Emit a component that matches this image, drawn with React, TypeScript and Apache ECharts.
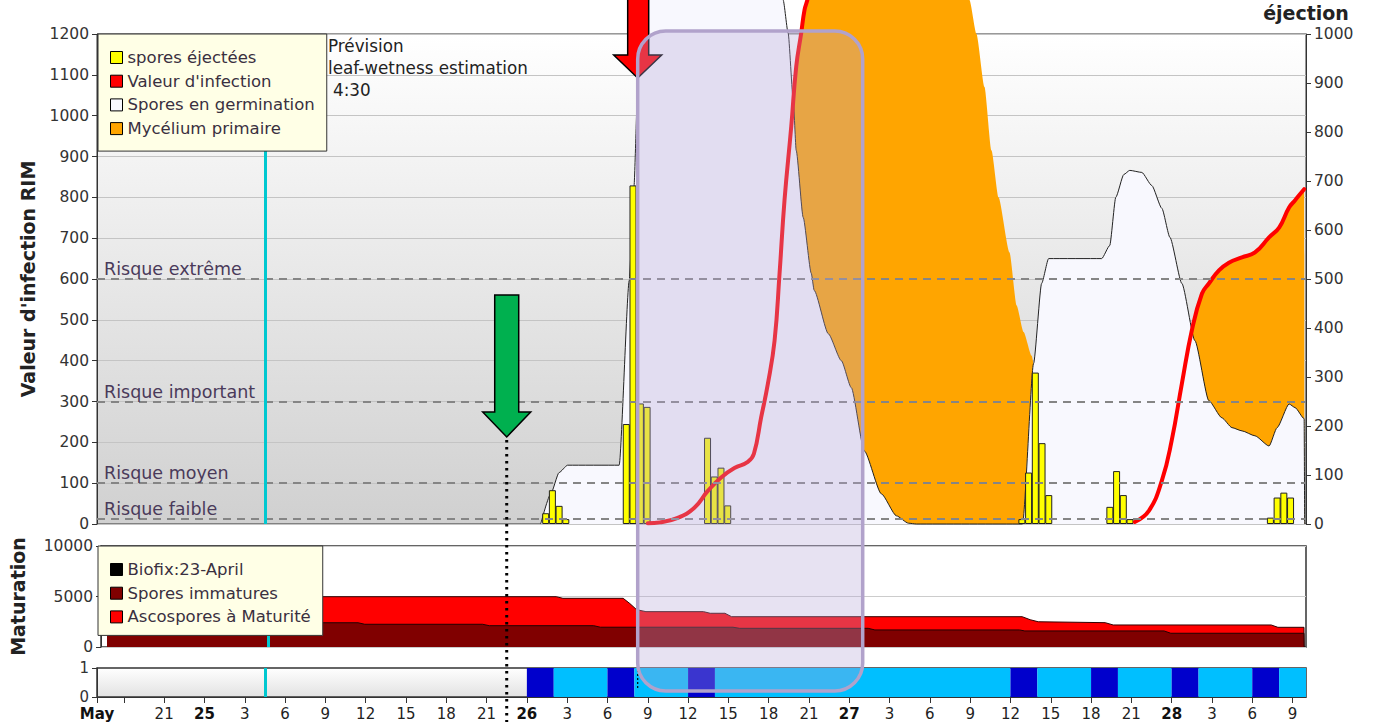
import React, { useEffect, useRef } from 'react';
import * as echarts from 'echarts';

const FONT = "'DejaVu Sans', 'Noto Sans', sans-serif";

// x values are hours counted from 24 May 00:00
const xStartHour = 16;
const xEndHour = 106;
const nowHour = 28.5; // 25 May 04:30
const greenArrowHour = 46.5;
const redArrowHour = 56.25;
const boxStartHour = 56.25;
const boxEndHour = 73;

const tickHours = [16, 18, 21, 24, 27, 30, 33, 36, 39, 42, 45, 48, 51, 54, 57, 60, 63, 66, 69, 72, 75, 78, 81, 84, 87, 90, 93, 96, 99, 102, 105];
const labelHours = [16, 21, 24, 27, 30, 33, 36, 39, 42, 45, 48, 51, 54, 57, 60, 63, 66, 69, 72, 75, 78, 81, 84, 87, 90, 93, 96, 99, 102, 105];

// spores éjectées (right axis)
const sporeHours = [49.4, 49.9, 50.4, 50.9, 55.4, 55.9, 56.45, 56.95, 61.45, 61.95, 62.45, 62.95, 84.85, 85.35, 85.85, 86.35, 86.85, 91.4, 91.9, 92.4, 92.9, 103.35, 103.85, 104.35, 104.85];
const sporeCounts = [22, 69, 37, 10, 204, 691, 246, 239, 176, 97, 115, 38, 10, 105, 309, 165, 59, 35, 108, 59, 10, 13, 54, 64, 54];

// Valeur d'infection (left axis)
const infectionHours = [57.0, 57.9, 59.23, 60.47, 61.47, 62.46, 63.45, 64.45, 64.9, 65.44, 65.94, 66.44, 66.81, 67.18, 67.68, 68.05, 68.42, 68.67, 68.92, 69.4, 80, 93.26, 94.3, 95.27, 96.0, 96.76, 97.5, 98.25, 98.77, 99.52, 100.26, 101.23, 102.2, 103.25, 104.0, 104.74, 105.19, 105.86];
const infectionValues: (number | null)[] = [2, 4, 15, 40, 81, 114, 137, 152, 172, 261, 343, 449, 613, 793, 973, 1120, 1202, 1259, 1290, 1420, null, 5, 32, 106, 204, 344, 474, 564, 589, 621, 640, 653, 665, 702, 726, 775, 793, 820];

// Spores en germination (left axis)
const germinationHours = [49.03, 49.78, 50.4, 51.03, 54.87, 55.62, 55.97, 56.27, 56.57, 56.87, 57.98, 62.46, 66.19, 67.08, 67.45, 67.83, 68.05, 68.57, 69.17, 69.39, 70.44, 71.41, 72.15, 73.12, 74.39, 75.51, 76.4, 77.0, 84.9, 85.72, 86.32, 86.84, 90.79, 91.39, 91.84, 92.44, 92.88, 93.78, 94.52, 95.27, 95.87, 96.76, 97.73, 98.77, 99.74, 100.49, 101.24, 102.2, 103.25, 103.85, 104.74, 105.19, 105.86, 105.9];
const germinationValues = [0, 74, 126, 144, 144, 596, 825, 1087, 1283, 1450, 1600, 1700, 1550, 1283, 1202, 1038, 915, 751, 614, 572, 466, 400, 334, 179, 74, 20, 2, 0, 0, 393, 589, 650, 650, 682, 800, 856, 866, 861, 829, 773, 702, 589, 449, 302, 260, 236, 228, 216, 191, 236, 294, 285, 258, 0];

// Mycélium primaire (left axis)
const myceliumHours = [66.0, 66.44, 66.81, 67.18, 67.68, 68.05, 68.42, 68.67, 68.92, 69.4, 70.3, 73.6, 78.9, 80.4, 80.95, 81.47, 82.07, 82.59, 83.11, 83.93, 84.46, 84.98, 85.58, 85.73, 85.87, 93.2, 93.26, 94.3, 95.27, 96.0, 96.76, 97.5, 98.25, 98.77, 99.52, 100.26, 101.23, 102.2, 103.25, 104.0, 104.74, 105.19, 105.86, 105.9];
const myceliumValues = [0, 449, 613, 793, 973, 1120, 1202, 1259, 1290, 1420, 1550, 1700, 1650, 1380, 1283, 1200, 1070, 915, 800, 665, 535, 470, 412, 393, 0, 0, 5, 32, 106, 204, 344, 474, 564, 589, 621, 640, 653, 665, 702, 726, 775, 793, 820, 0];

// Maturation panel
const ascosporeHours = [16.45, 50.0, 50.5, 55.0, 55.5, 56.0, 56.7, 61.0, 61.5, 62.6, 63.1, 84.8, 85.4, 86.0, 91.0, 91.6, 103.4, 103.9, 105.85, 105.86];
const ascosporeTop = [4980, 4980, 4820, 4820, 4300, 3700, 3500, 3500, 3340, 3340, 3000, 3000, 2700, 2500, 2410, 2180, 2180, 1950, 1950, 0];
const immatureHours = [16.45, 35.2, 35.7, 44.5, 45.0, 52.8, 53.3, 63.2, 63.7, 73.3, 73.8, 84.6, 85.0, 95.4, 95.9, 105.85, 105.86];
const immatureValues = [2400, 2400, 2250, 2250, 2110, 2110, 1960, 1960, 1850, 1850, 1690, 1690, 1590, 1590, 1360, 1360, 0];

// bottom strip (1 = wet; dark blocks = rain)
const stripStart = [48, 50, 54, 56, 60, 62, 84, 86, 90, 92, 96, 98, 102, 104];
const stripEnd = [50, 54, 56, 60, 62, 84, 86, 90, 92, 96, 98, 102, 104, 106];
const stripLevel = [1, 1, 1, 1, 1, 1, 1, 1, 1, 1, 1, 1, 1, 1];
const stripRain = [1, 0, 1, 0, 1, 0, 1, 0, 1, 0, 1, 0, 1, 0];

// risk thresholds
const riskNames = ['Risque extrême', 'Risque important', 'Risque moyen', 'Risque faible'];
const riskValues = [600, 300, 100, 12];

const pairs = (xs: number[], ys: (number | null)[]) => xs.map((x, i) => [x, ys[i] === null ? '-' : ys[i]]);
const plain = (v: number) => String(v);

export default function App() {
  const ref = useRef<HTMLDivElement>(null);
  useEffect(() => {
    if (!ref.current) return;
    const chart = echarts.init(ref.current, undefined, { renderer: 'svg' });

    const labelColor = '#333';
    const nowLine = { xAxis: nowHour, lineStyle: { color: '#00c8d0', width: 3, type: 'solid' }, label: { show: false } };
    const xBase = (gridIndex: number) => ({
      type: 'value', gridIndex, min: xStartHour, max: xEndHour,
      axisLabel: { show: false }, axisTick: { show: false }, splitLine: { show: false },
      axisLine: { show: false },
    });
    const prevision = [
      { type: 'text', left: 328, top: 37, z: 5, style: { text: 'Prévision', fontSize: 16.8, fill: '#222', fontFamily: FONT } },
      { type: 'text', left: 328, top: 59, z: 5, style: { text: 'leaf-wetness estimation', fontSize: 16.8, fill: '#222', fontFamily: FONT } },
      { type: 'text', left: 333, top: 81, z: 5, style: { text: '4:30', fontSize: 16.8, fill: '#222', fontFamily: FONT } },
    ];

    const option: any = {
      animation: false,
      backgroundColor: '#ffffff',
      textStyle: { fontFamily: FONT },
      grid: [
        {
          left: 97, right: 71, top: 34, height: 490, show: true, borderColor: '#333', borderWidth: 1,
          backgroundColor: new echarts.graphic.LinearGradient(0, 0, 0, 1, [
            { offset: 0, color: '#ffffff' }, { offset: 1, color: '#d0d0d0' },
          ]),
        },
        { left: 97, right: 71, top: 546, height: 101, show: true, borderColor: '#333', borderWidth: 1.5, backgroundColor: '#ffffff' },
        {
          left: 97, right: 71, top: 668, height: 29, show: true, borderColor: '#333', borderWidth: 1.5,
          backgroundColor: new echarts.graphic.LinearGradient(0, 0, 0, 1, [
            { offset: 0, color: '#ffffff' }, { offset: 1, color: '#e2e2e2' },
          ]),
        },
      ],
      xAxis: [
        xBase(0),
        xBase(1),
        {
          type: 'value', gridIndex: 2, min: xStartHour, max: xEndHour,
          splitLine: { show: false },
          axisLine: { show: true, lineStyle: { color: '#333' } },
          axisTick: { show: true, customValues: tickHours, length: 6, lineStyle: { color: '#333' } },
          axisLabel: {
            customValues: labelHours, fontSize: 15, color: '#222', margin: 9, fontFamily: FONT,
            formatter: (v: number) => {
              if (v === xStartHour) return '{b|May}';
              const h = v % 24;
              if (h === 0) return '{b|' + (24 + v / 24) + '}';
              return String(h);
            },
            rich: { b: { fontWeight: 'bold', fontSize: 15, color: '#111', fontFamily: FONT } },
          },
        },
      ],
      yAxis: [
        {
          type: 'value', gridIndex: 0, min: 0, max: 1200, interval: 100,
          name: "Valeur d'infection RIM", nameLocation: 'middle', nameGap: 60,
          nameTextStyle: { fontSize: 19, fontWeight: 'bold', color: '#222' },
          axisLine: { show: true, lineStyle: { color: '#333' } },
          axisTick: { show: true, length: 5, lineStyle: { color: '#333' } },
          axisLabel: { fontSize: 15.5, color: labelColor, margin: 8, formatter: plain },
          splitLine: { show: true, lineStyle: { color: '#c4c4c4', width: 1 } },
        },
        {
          type: 'value', gridIndex: 0, position: 'right', min: 0, max: 1000, interval: 100,
          name: 'éjection', nameLocation: 'end', nameGap: 12,
          nameTextStyle: { fontSize: 19, fontWeight: 'bold', color: '#222' },
          axisLine: { show: true, lineStyle: { color: '#333' } },
          axisTick: { show: true, length: 5, lineStyle: { color: '#333' } },
          axisLabel: { fontSize: 15.5, color: labelColor, margin: 8, formatter: plain },
          splitLine: { show: false },
        },
        {
          type: 'value', gridIndex: 1, min: 0, max: 10000, interval: 5000,
          name: 'Maturation', nameLocation: 'middle', nameGap: 74,
          nameTextStyle: { fontSize: 19, fontWeight: 'bold', color: '#222' },
          axisLine: { show: true, lineStyle: { color: '#333' } },
          axisTick: { show: true, length: 5, lineStyle: { color: '#333' } },
          axisLabel: { fontSize: 15.5, color: labelColor, margin: 8, formatter: plain },
          splitLine: { show: true, lineStyle: { color: '#cccccc' } },
        },
        {
          type: 'value', gridIndex: 2, min: 0, max: 1, interval: 1,
          axisLine: { show: true, lineStyle: { color: '#333' } },
          axisTick: { show: true, length: 5, lineStyle: { color: '#333' } },
          axisLabel: { fontSize: 15, color: labelColor, margin: 8, formatter: plain },
          splitLine: { show: false },
        },
      ],
      legend: [
        {
          data: ['spores éjectées', "Valeur d'infection", 'Spores en germination', 'Mycélium primaire'],
          left: 98, top: 34, orient: 'vertical', icon: 'rect', itemWidth: 12, itemHeight: 12, itemGap: 6.7,
          padding: [15, 12, 14, 12], backgroundColor: '#ffffe6', borderColor: '#333', borderWidth: 1,
          textStyle: { fontSize: 16.5, color: '#3a3040' }, itemStyle: { borderColor: '#000', borderWidth: 1 },
          selectedMode: false, z: 20,
        },
        {
          data: ['Biofix:23-April', 'Spores immatures', 'Ascospores à Maturité'],
          left: 98, top: 546, orient: 'vertical', icon: 'rect', itemWidth: 12, itemHeight: 12, itemGap: 6.7,
          padding: [15, 12, 10, 12], backgroundColor: '#ffffe6', borderColor: '#333', borderWidth: 1,
          textStyle: { fontSize: 16.5, color: '#3a3040' }, itemStyle: { borderColor: '#000', borderWidth: 1 },
          selectedMode: false, z: 20,
        },
      ],
      series: [
        {
          name: 'Mycélium primaire', type: 'line', xAxisIndex: 0, yAxisIndex: 0,
          data: pairs(myceliumHours, myceliumValues), showSymbol: false, smooth: 0.2, smoothMonotone: 'x',
          clip: false, lineStyle: { width: 0 }, itemStyle: { color: '#ffa500' },
          areaStyle: { color: '#ffa500', opacity: 1 }, z: 2,
        },
        {
          name: 'Spores en germination', type: 'line', xAxisIndex: 0, yAxisIndex: 0,
          data: pairs(germinationHours, germinationValues), showSymbol: false, smooth: 0.2, smoothMonotone: 'x',
          clip: false, lineStyle: { width: 1, color: '#222' }, itemStyle: { color: '#f8f8fe' },
          areaStyle: { color: '#f8f8fe', opacity: 1 }, z: 2,
        },
        {
          name: 'spores éjectées', type: 'bar', xAxisIndex: 0, yAxisIndex: 1,
          data: pairs(sporeHours, sporeCounts), barWidth: 7,
          itemStyle: { color: '#ffff00', borderColor: '#222', borderWidth: 1 }, z: 3,
        },
        {
          name: "Valeur d'infection", type: 'line', xAxisIndex: 0, yAxisIndex: 0,
          data: pairs(infectionHours, infectionValues), showSymbol: false, smooth: 0.45,
          connectNulls: false, clip: false,
          lineStyle: { width: 4, color: '#ff0000', cap: 'round', join: 'round' }, itemStyle: { color: '#ff0000' }, z: 4,
          markLine: {
            silent: true, symbol: ['none', 'none'], animation: false,
            data: [
              ...riskNames.map((n, i) => ({
                name: n, yAxis: riskValues[i],
                lineStyle: { color: '#858585', width: 2.2, type: [8, 6] },
                label: { show: true, position: 'insideStartTop', formatter: '{b}', color: '#4a3a5a', fontSize: 17.5, distance: [7, 1] },
              })),
              nowLine,
            ],
          },
        },
        {
          name: 'Biofix:23-April', type: 'line', xAxisIndex: 1, yAxisIndex: 2, data: [],
          itemStyle: { color: '#000000' },
        },
        {
          name: 'Ascospores à Maturité', type: 'line', xAxisIndex: 1, yAxisIndex: 2,
          data: pairs(ascosporeHours, ascosporeTop), showSymbol: false,
          lineStyle: { width: 1, color: '#300' }, itemStyle: { color: '#ff0000' },
          areaStyle: { color: '#ff0000', opacity: 1 }, z: 2,
          markLine: { silent: true, symbol: ['none', 'none'], data: [nowLine] },
        },
        {
          name: 'Spores immatures', type: 'line', xAxisIndex: 1, yAxisIndex: 2,
          data: pairs(immatureHours, immatureValues), showSymbol: false,
          lineStyle: { width: 1, color: '#200' }, itemStyle: { color: '#800000' },
          areaStyle: { color: '#800000', opacity: 1 }, z: 3,
        },
        {
          name: 'Humectation', type: 'custom', xAxisIndex: 2, yAxisIndex: 3,
          data: stripStart.map((s, i) => [s, stripEnd[i], stripLevel[i], stripRain[i]]),
          encode: { x: [0, 1], y: 2 },
          renderItem: (params: any, api: any) => {
            const p0 = api.coord([api.value(0), api.value(2)]);
            const p1 = api.coord([api.value(1), 0]);
            return {
              type: 'rect',
              shape: { x: p0[0], y: p0[1], width: p1[0] - p0[0], height: p1[1] - p0[1] },
              style: { fill: api.value(3) === 1 ? '#0000cc' : '#00bfff' },
            };
          },
          markLine: { silent: true, symbol: ['none', 'none'], data: [nowLine] },
          z: 2,
        },
      ],
      graphic: prevision,
    };

    chart.setOption(option);

    const px = (h: number) => chart.convertToPixel({ xAxisIndex: 0 } as any, h) as unknown as number;
    const gx = px(greenArrowHour);
    const rx = px(redArrowHour);
    const b0 = px(boxStartHour);
    const b1 = px(boxEndHour);

    chart.setOption({
      graphic: [
        ...prevision,
        {
          type: 'line', z: 50, shape: { x1: gx, y1: 440, x2: gx, y2: 722 },
          style: { stroke: '#000', lineWidth: 3, lineDash: [2.5, 4.5] },
        },
        {
          type: 'polygon', z: 51,
          shape: { points: [[gx - 12, 295], [gx + 12, 295], [gx + 12, 412], [gx + 24, 412], [gx, 437], [gx - 24, 412], [gx - 12, 412]] },
          style: { fill: '#00b04f', stroke: '#000', lineWidth: 1.5 },
        },
        {
          type: 'line', z: 50, shape: { x1: rx, y1: 78, x2: rx, y2: 690 },
          style: { stroke: '#000', lineWidth: 1.2, lineDash: [2, 2] },
        },
        {
          type: 'polygon', z: 51,
          shape: { points: [[rx - 10, -4], [rx + 11, -4], [rx + 11, 55], [rx + 24, 55], [rx, 78], [rx - 24, 55], [rx - 10, 55]] },
          style: { fill: '#ff0000', stroke: '#000', lineWidth: 1.5 },
        },
        {
          type: 'rect', z: 60,
          shape: { x: b0, y: 31, width: b1 - b0, height: 660, r: 28 },
          style: { fill: 'rgba(180,165,215,0.32)', stroke: '#b1a2cb', lineWidth: 3.5 },
        },
      ],
    });

    return () => chart.dispose();
  }, []);
  return <div ref={ref} style={{ position: 'fixed', left: 0, top: 0, width: 1377, height: 728, background: '#fff' }} />;
}
